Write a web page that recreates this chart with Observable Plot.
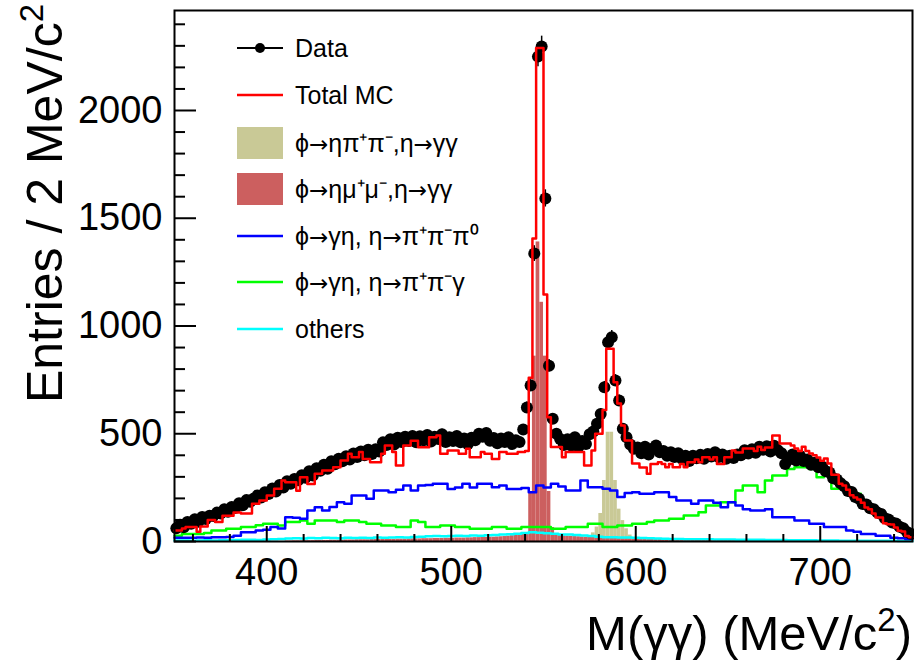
<!DOCTYPE html>
<html><head><meta charset="utf-8">
<script src="https://cdn.jsdelivr.net/npm/d3@7"></script>
<script src="https://cdn.jsdelivr.net/npm/@observablehq/plot@0.6"></script>
<style>body{margin:0;background:#fff}#chart{width:914px;height:672px}</style>
</head><body><div id="chart"></div>
<script>
// ---- axis setup (MeV/c^2) ----
const xMin = 350, xMax = 750, yMax = 2464;
const xMajorTicks = [400, 500, 600, 700];
const xMinorTicks = [360, 380, 420, 440, 460, 480, 520, 540, 560, 580, 620, 640, 660, 680, 720, 740];
const yMajorTicks = [0, 500, 1000, 1500, 2000];
const yMinorTicks = [100, 200, 300, 400, 600, 700, 800, 900, 1100, 1200, 1300, 1400, 1600, 1700, 1800, 1900, 2100, 2200, 2300, 2400];

// ---- Data: 2 MeV bins starting at 350 ----
const dataStart = 350, dataWidth = 2;
const dataCounts = [
  62, 78, 66, 90, 82, 103, 92, 114, 104, 120, 118, 134, 130, 150, 138, 160, 156, 178, 168, 192, 184, 200, 214, 204, 228,
  220, 246, 232, 262, 250, 280, 268, 290, 284, 308, 296, 326, 306, 340, 328, 356, 338, 372, 358, 384, 372, 396, 380, 408, 392,
  418, 400, 426, 406, 428, 418, 460, 448, 474, 450, 482, 462, 486, 466, 490, 460, 488, 470, 494, 464, 486, 476, 498, 462, 484,
  466, 490, 460, 478, 452, 482, 470, 500, 486, 504, 468, 480, 456, 478, 462, 484, 452, 470, 462, 520, 622, 724, 1336, 2250, 2297,
  1592, 816, 570, 500, 476, 448, 474, 446, 484, 440, 466, 452, 498, 510, 546, 592, 716, 925, 948, 747, 654, 523, 484, 450, 430,
  436, 410, 440, 404, 430, 446, 414, 420, 398, 414, 392, 410, 384, 398, 374, 398, 386, 402, 384, 406, 394, 414, 392, 404, 384,
  398, 388, 404, 400, 424, 408, 428, 412, 440, 426, 442, 418, 444, 424, 410, 360, 380, 404, 376, 398, 374, 380, 356, 366, 344,
  348, 326, 320, 294, 288, 270, 256, 234, 230, 206, 198, 174, 172, 154, 150, 134, 128, 108, 102, 88, 84, 68, 62, 44, 36
];

// ---- Total MC: 2 MeV bins starting at 350 ----
const totalMC = [
  51, 51, 60, 67, 67, 67, 45, 70, 70, 100, 100, 90, 90, 120, 120, 120, 135, 135, 130, 130, 130, 175, 175, 190, 190,
  214, 214, 245, 245, 283, 275, 275, 275, 235, 298, 298, 267, 267, 314, 314, 330, 330, 330, 345, 345, 376, 376, 407, 391, 391,
  415, 383, 383, 368, 368, 368, 407, 445, 445, 415, 353, 353, 445, 445, 468, 468, 437, 437, 437, 484, 484, 492, 407, 407, 422,
  422, 422, 407, 407, 430, 391, 391, 391, 415, 407, 407, 383, 383, 415, 415, 407, 407, 407, 415, 415, 420, 760, 1406, 2290, 2290,
  1146, 577, 438, 438, 438, 391, 415, 415, 415, 415, 415, 353, 353, 422, 500, 500, 610, 894, 894, 739, 640, 538, 469, 469, 362,
  362, 343, 343, 314, 360, 360, 368, 360, 345, 360, 345, 345, 360, 345, 368, 368, 380, 368, 391, 391, 380, 391, 360, 360, 391,
  391, 422, 413, 413, 431, 431, 431, 420, 440, 425, 436, 436, 492, 492, 455, 455, 455, 445, 432, 420, 440, 420, 408, 400, 390,
  375, 385, 362, 310, 310, 268, 260, 240, 215, 204, 195, 180, 158, 150, 130, 111, 111, 85, 80, 79, 65, 50, 46, 25, 20
];

// ---- phi -> eta pi+ pi-, eta -> gamma gamma (filled), 2 MeV bins from 560 ----
const etaPiPiStart = 560;
const etaPiPi = [5, 5, 6, 8, 10, 12, 15, 25, 40, 67, 130, 283, 507, 507, 283, 150, 97, 59, 30, 15, 10, 7, 5, 4];

// ---- phi -> eta mu+ mu-, eta -> gamma gamma (filled), 2 MeV bins from 410 ----
const etaMuMuStart = 410;
const etaMuMu = [
  2, 2, 3, 3, 3, 4, 4, 4, 5, 5, 5, 5, 6, 6, 6, 6, 7, 7, 7, 8,
  8, 8, 8, 9, 9, 9, 10, 10, 10, 10, 11, 11, 11, 12, 12, 12, 12, 13, 13, 13, 14, 14, 14, 15, 15,
  15, 16, 16, 16, 17, 17, 18, 18, 19, 19, 20, 20, 21, 22, 23, 25, 27, 30, 34, 40,
  40, 230, 860, 1390, 1110, 860, 232, 65, 35, 28,
  26, 25, 24, 23, 22, 21, 20, 19, 18, 17, 16, 16, 15, 15, 14, 14, 13, 13, 12, 12,
  12, 11, 11, 11, 10, 10, 10, 9, 9, 9, 8, 8, 8, 8, 7, 7, 7, 7, 6, 6, 6, 6, 5, 5, 5, 5, 4, 4, 4, 4, 3, 3, 3, 3, 2
];

// ---- line components: 4 MeV bins from 350 ----
const compStart = 350, compWidth = 4;
const gammaEta3pi = [
  17, 17, 17, 18, 17, 20, 20, 21, 27, 43,
  43, 51, 55, 67, 60, 113, 110, 105, 144, 159,
  144, 160, 182, 175, 213, 213, 198, 237, 237, 229,
  240, 260, 237, 260, 262, 268, 268, 244, 250, 268,
  250, 268, 268, 252, 260, 244, 244, 248, 229, 260,
  250, 268, 255, 237, 237, 283, 252, 252, 245, 237,
  206, 225, 229, 221, 221, 229, 229, 206, 190, 190,
  175, 190, 190, 180, 159, 182, 167, 150, 144, 144,
  150, 113, 113, 113, 97, 97, 82, 82, 67, 67,
  67, 51, 45, 35, 35, 27, 27, 17, 15, 12
];
const gammaEtaPiPiG = [
  27, 35, 35, 35, 40, 51, 51, 59, 59, 67,
  67, 75, 82, 82, 74, 90, 90, 97, 82, 97,
  97, 97, 90, 97, 97, 90, 82, 82, 74, 74,
  67, 67, 97, 90, 67, 67, 74, 74, 67, 67,
  59, 59, 59, 67, 67, 59, 59, 67, 67, 67,
  67, 59, 59, 67, 67, 67, 82, 82, 67, 67,
  74, 74, 82, 82, 90, 97, 97, 105, 105, 121,
  121, 136, 167, 167, 182, 182, 237, 260, 260, 229,
  283, 306, 306, 337, 345, 345, 337, 298, 329, 245,
  260, 221, 221, 175, 150, 136, 97, 75, 55, 27
];
const others = [
  5, 5, 4, 5, 6, 5, 6, 6, 7, 8,
  8, 7, 9, 10, 12, 14, 15, 14, 16, 15,
  17, 16, 15, 17, 16, 17, 16, 18, 17, 18,
  20, 19, 21, 22, 24, 25, 24, 26, 27, 26,
  28, 27, 29, 30, 32, 34, 36, 40, 43, 41,
  38, 36, 33, 32, 30, 28, 25, 22, 20, 20,
  18, 19, 17, 16, 15, 14, 13, 12, 12, 11,
  11, 10, 10, 9, 9, 9, 8, 8, 8, 8,
  7, 7, 7, 6, 6, 6, 6, 5, 5, 5,
  4, 4, 4, 4, 3, 3, 3, 3, 2, 2
];

// ---- legend ----
const legendLabels = ["Data", "Total MC", "ϕ→ηπ⁺π⁻,η→γγ", "ϕ→ημ⁺μ⁻,η→γγ", "ϕ→γη, η→π⁺π⁻π⁰", "ϕ→γη, η→π⁺π⁻γ", "others"];
const colors = {data: "#000000", total: "#ff0000", tan: "#c9c996", rose: "#cc5f5f", blue: "#0000ff", green: "#00ff00", cyan: "#00ffff"};

// ---- helpers ----
const toBins = (vals, start, w) => vals.map((v, i) => ({x1: start + i * w, x2: start + (i + 1) * w, y: v}));
const toSteps = (vals, start, w) => {
  const p = vals.map((v, i) => ({x: start + i * w, y: v}));
  p.push({x: start + vals.length * w, y: vals[vals.length - 1]});
  return p;
};
const dataPts = dataCounts.map((v, i) => ({x: dataStart + (i + 0.5) * dataWidth, y: v, lo: v - Math.sqrt(v), hi: v + Math.sqrt(v)}));

const font = '"Liberation Sans", Arial, Helvetica, sans-serif';

const svg = Plot.plot({
  width: 914, height: 672,
  marginLeft: 174, marginRight: 2, marginTop: 10, marginBottom: 131,
  x: {domain: [xMin, xMax]},
  y: {domain: [0, yMax]},
  style: {fontFamily: font, background: "white", color: "black"},
  marks: [
    Plot.rect(toBins(etaPiPi, etaPiPiStart, dataWidth), {x1: "x1", x2: "x2", y1: 0, y2: "y", fill: colors.tan}),
    Plot.rect(toBins(etaMuMu, etaMuMuStart, dataWidth), {x1: "x1", x2: "x2", y1: 0, y2: "y", fill: colors.rose}),
    Plot.line(toSteps(others, compStart, compWidth), {x: "x", y: "y", curve: "step-after", stroke: colors.cyan, strokeWidth: 2.5}),
    Plot.line(toSteps(gammaEtaPiPiG, compStart, compWidth), {x: "x", y: "y", curve: "step-after", stroke: colors.green, strokeWidth: 2.5}),
    Plot.line(toSteps(gammaEta3pi, compStart, compWidth), {x: "x", y: "y", curve: "step-after", stroke: colors.blue, strokeWidth: 2.5}),
    Plot.ruleX(dataPts, {x: "x", y1: "lo", y2: "hi", stroke: "black", strokeWidth: 1.5}),
    Plot.dot(dataPts, {x: "x", y: "y", r: 6, fill: "black", stroke: "none"}),
    Plot.line(toSteps(totalMC, dataStart, dataWidth), {x: "x", y: "y", curve: "step-after", stroke: colors.total, strokeWidth: 2.5}),
    Plot.axisY(yMajorTicks, {tickSize: -22, tickPadding: 34, fontSize: 38, strokeWidth: 2, tickFormat: d => String(d), label: null}),
    Plot.axisY(yMinorTicks, {tickSize: -11, tickPadding: 0, strokeWidth: 2, tickFormat: () => "", label: null}),
    Plot.axisX(xMajorTicks, {tickSize: -15, tickPadding: 32, fontSize: 38, strokeWidth: 2, tickFormat: d => String(d), label: null}),
    Plot.axisX(xMinorTicks, {tickSize: -7, tickPadding: 0, strokeWidth: 2, tickFormat: () => "", label: null}),
    Plot.frame({stroke: "black", strokeWidth: 2})
  ]
});

const s = d3.select(svg);
// Y title
const yt = s.append("text").attr("transform", "translate(62,4) rotate(-90)").attr("text-anchor", "end")
  .attr("font-family", font).attr("font-size", 50).attr("fill", "black");
yt.append("tspan").text("Entries / 2 MeV/c");
yt.append("tspan").attr("dy", -19).attr("font-size", 33).text("2");
// X title
const xt = s.append("text").attr("x", 912).attr("y", 650).attr("text-anchor", "end")
  .attr("font-family", font).attr("font-size", 49).attr("fill", "black");
xt.append("tspan").text("M(γγ) (MeV/c");
xt.append("tspan").attr("dy", -19).attr("font-size", 33).text("2");
xt.append("tspan").attr("dy", 19).text(")");

// Legend
const lg = s.append("g").attr("font-family", font).attr("font-size", 25).attr("text-anchor", "start");
const rowY = [48, 95, 143, 189, 236, 282, 329];
const kinds = ["data", "total", "tan", "rose", "blue", "green", "cyan"];
kinds.forEach((k, i) => {
  const y = rowY[i];
  if (k === "tan" || k === "rose") {
    lg.append("rect").attr("x", 237).attr("y", y - 16).attr("width", 46).attr("height", 32).attr("fill", colors[k]);
  } else {
    lg.append("line").attr("x1", 237).attr("x2", 283).attr("y1", y).attr("y2", y)
      .attr("stroke", colors[k]).attr("stroke-width", k === "data" ? 2 : 2.5);
    if (k === "data") lg.append("circle").attr("cx", 260).attr("cy", y).attr("r", 5).attr("fill", "black");
  }
  const t = lg.append("text").attr("x", 295).attr("y", y).attr("dy", "0.36em").attr("text-anchor", "start").attr("fill", "black");
  // render arrows with a font whose arrow glyph is long, like the original
  legendLabels[i].split(/(→)/).forEach(part => {
    if (!part) return;
    const ts = t.append("tspan").text(part);
    if (part === "→") ts.attr("font-family", '"DejaVu Sans", sans-serif').attr("font-size", 23);
  });
});

document.getElementById("chart").appendChild(svg);
</script>
</body></html>
